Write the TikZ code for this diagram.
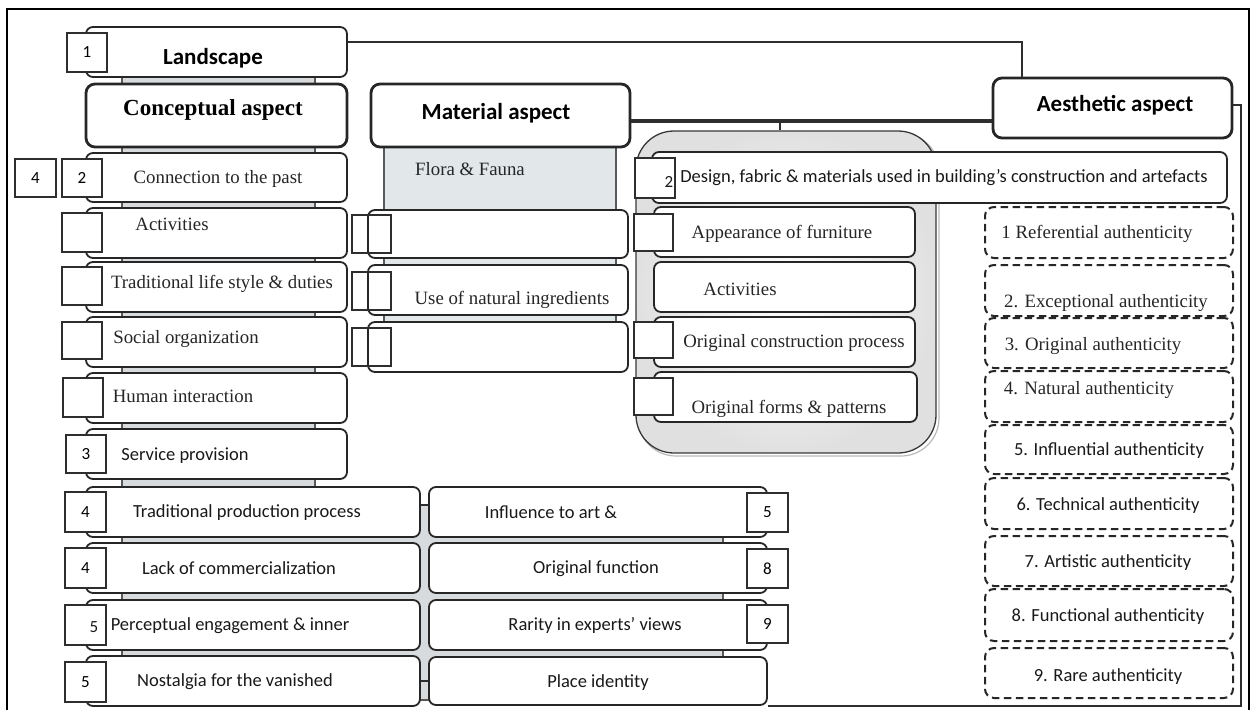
\documentclass[tikz,border=0pt]{standalone}
\usepackage{fontspec}
\setmainfont{Liberation Serif}
\setsansfont{Carlito}
\usetikzlibrary{calc}
\definecolor{mgray}{RGB}{226,231,234}
\definecolor{sgray}{RGB}{216,219,221}
\newcommand{\mkbox}[7]{\node[#6, minimum width={#4-#2}, minimum height={#5-#3}] (#1) at ({(#2+#4)/2},{(#3+#5)/2}) {#7};}
\newcommand{\tx}[5]{\node[#4] (#1) at (#2,#3) {#5};}
\begin{document}
\begin{tikzpicture}[x=1pt,y=-1pt,
  rbox/.style={draw=black!85, line width=1.8pt, rounded corners=7pt, fill=white, inner sep=0pt},
  hbox/.style={rbox, line width=2.8pt, rounded corners=9pt},
  nsq/.style={draw=black!82, line width=1.7pt, fill=white, inner sep=0pt, font=\sffamily\fontsize{17}{19}\selectfont},
  osq/.style={draw=black!82, line width=1.5pt, inner sep=0pt},
  dbox/.style={draw=black!85, line width=2pt, dash pattern=on 7.5pt off 4.5pt, rounded corners=9pt, inner sep=0pt},
  ser/.style={font=\fontsize{18.8}{20}\selectfont, text=black!85, inner sep=0pt, yshift=-1.5pt},
  sans/.style={font=\sffamily\fontsize{18.5}{20}\selectfont, text=black!90, inner sep=0pt, yshift=-1.5pt},
  hser/.style={font=\bfseries\fontsize{23}{25}\selectfont, inner sep=0pt, yshift=-1.5pt},
  hsans/.style={font=\sffamily\bfseries\fontsize{23}{25}\selectfont, inner sep=0pt, yshift=-1.5pt},
  conn/.style={draw=black!82, line width=1.5pt},
  strip/.style={fill=sgray, draw=black!65, line width=1.2pt},
  contbox/.style={draw=black!78, line width=1.3pt, rounded corners=38pt, shading=radial, inner color=white, outer color=gray!24, inner sep=0pt}
]
\useasboundingbox (0,0) rectangle (1252,709);
% frame
\draw[line width=1.5pt] (7,712) -- (7,9) -- (1249,9) -- (1249,712);

% background strips
\path[strip] (122,70) rectangle (315,505);
\path[strip] (122,505) rectangle (723,700);
\path[fill=mgray, draw=black!65, line width=1.2pt] (384,140) rectangle (616,322);

% right container
\mkbox{contsh}{638}{133}{939}{456}{draw=gray!55, line width=1.2pt, rounded corners=38pt, inner sep=0pt}{}
\mkbox{cont}{636}{131}{936}{453}{contbox}{}

% left column
\mkbox{land}{86}{27}{347}{77}{rbox}{}
\mkbox{conc}{86}{84}{347}{147}{hbox}{}
\mkbox{conn}{86}{153}{347}{202}{rbox}{}
\mkbox{act}{86}{208}{347}{258}{rbox}{}
\mkbox{trad}{86}{262}{347}{312}{rbox}{}
\mkbox{soc}{86}{317}{347}{367}{rbox}{}
\mkbox{hum}{86}{373}{347}{423}{rbox}{}
\mkbox{serv}{86}{429}{347}{479}{rbox}{}
\mkbox{tpp}{86}{487}{420}{537}{rbox}{}
\mkbox{lack}{86}{543}{420}{593}{rbox}{}
\mkbox{perc}{86}{600}{420}{650}{rbox}{}
\mkbox{nost}{86}{656}{420}{706}{rbox}{}
\mkbox{infl}{429}{487}{767}{537}{rbox}{}
\mkbox{func}{429}{543}{767}{593}{rbox}{}
\mkbox{rar}{429}{600}{767}{650}{rbox}{}
\mkbox{place}{429}{657}{767}{705}{rbox}{}

% material column
\mkbox{mat}{371}{84}{630}{147}{hbox}{}
\mkbox{m1}{368}{210}{628}{258}{rbox}{}
\mkbox{m2}{368}{265}{628}{315}{rbox}{}
\mkbox{m3}{368}{322}{628}{372}{rbox}{}
\mkbox{ms1}{352}{215}{391}{253}{osq}{}
\mkbox{ms2}{352}{272}{391}{310}{osq}{}
\mkbox{ms3}{352}{328}{391}{366}{osq}{}

% right column
\mkbox{des}{652}{152}{1227}{203}{rbox}{}
\mkbox{app}{654}{207}{915}{257}{rbox}{}
\mkbox{ract}{654}{262}{915}{312}{rbox}{}
\mkbox{ocp}{654}{317}{915}{367}{rbox}{}
\mkbox{ofp}{654}{372}{917}{422}{rbox}{}
\mkbox{aes}{993}{78}{1232}{138}{hbox}{}

% dashed boxes
\mkbox{d1}{985}{207}{1233}{258}{dbox}{}
\mkbox{d2}{985}{265}{1233}{316}{dbox}{}
\mkbox{d3}{985}{318}{1233}{368}{dbox}{}
\mkbox{d4}{985}{371}{1233}{422}{dbox}{}
\mkbox{d5}{985}{425}{1233}{474}{dbox}{}
\mkbox{d6}{985}{478}{1233}{529}{dbox}{}
\mkbox{d7}{985}{536}{1233}{586}{dbox}{}
\mkbox{d8}{985}{589}{1233}{641}{dbox}{}
\mkbox{d9}{985}{648}{1233}{698}{dbox}{}

% number squares
\mkbox{s1}{67}{33}{107}{72}{nsq}{1}
\mkbox{s2}{62}{159}{102}{197}{nsq}{2}
\mkbox{s4}{15}{159}{56}{197}{nsq}{4}
\mkbox{sa}{62}{213}{102}{252}{nsq}{}
\mkbox{st}{62}{267}{102}{305}{nsq}{}
\mkbox{ss}{62}{322}{102}{359}{nsq}{}
\mkbox{sh}{63}{378}{103}{417}{nsq}{}
\mkbox{s3}{66}{435}{106}{473}{nsq}{3}
\mkbox{b1}{65}{492}{106}{532}{nsq}{4}
\mkbox{b2}{65}{548}{106}{588}{nsq}{4}
\mkbox{b3}{65}{605}{106}{645}{nsq}{}
\mkbox{b4}{65}{662}{106}{702}{nsq}{5}
\mkbox{r1}{747}{493}{788}{532}{nsq}{5}
\mkbox{r2}{747}{549}{788}{588}{nsq}{8}
\mkbox{r3}{747}{605}{788}{643}{nsq}{9}
\mkbox{qd}{635}{158}{675}{198}{nsq}{}
\mkbox{qa}{634}{214}{673}{251}{nsq}{}
\mkbox{qc}{634}{322}{673}{358}{nsq}{}
\mkbox{qf}{634}{378}{673}{415}{nsq}{}
\tx{nb3}{94}{626}{sans, font=\sffamily\fontsize{17}{19}\selectfont}{5}
\tx{nqd}{669}{180}{sans, font=\sffamily\fontsize{17}{19}\selectfont}{2}

% texts
\tx{tland}{213}{57}{hsans}{Landscape}
\tx{tconc}{213}{108}{hser}{Conceptual aspect}
\tx{tconn}{218}{177}{ser}{Connection to the past}
\tx{tact}{172}{223}{ser}{Activities}
\tx{ttrad}{222}{282}{ser}{Traditional life style \& duties}
\tx{tsoc}{186}{338}{ser}{Social organization}
\tx{thum}{183}{395}{ser}{Human interaction}
\tx{tserv}{185}{454}{sans}{Service provision}
\tx{ttpp}{247}{511}{sans}{Traditional production process}
\tx{tlack}{239}{567}{sans}{Lack of commercialization}
\tx{tperc}{230}{624}{sans}{Perceptual engagement \& inner}
\tx{tnost}{235}{680}{sans}{Nostalgia for the vanished}
\tx{tinfl}{551}{511}{sans}{Influence to art \&}
\tx{tfunc}{596}{567}{sans}{Original function}
\tx{trar}{595}{624}{sans}{Rarity in experts’ views}
\tx{tplace}{598}{681}{sans}{Place identity}
\tx{tmat}{496}{112}{hsans}{Material aspect}
\tx{tflora}{470}{168}{ser}{Flora \& Fauna}
\tx{tuse}{512}{298}{ser}{Use of natural ingredients}
\tx{tdes}{944}{176}{sans}{Design, fabric \& materials used in building’s construction and artefacts}
\tx{tapp}{782}{232}{ser}{Appearance of furniture}
\tx{tract}{740}{288}{ser}{Activities}
\tx{tocp}{794}{342}{ser}{Original construction process}
\tx{tofp}{789}{407}{ser}{Original forms \& patterns}
\tx{taes}{1115}{104}{hsans}{Aesthetic aspect}
\tx{td1}{1097}{232}{ser}{1 Referential authenticity}
\tx{td2}{1106}{302}{ser}{2. Exceptional authenticity}
\tx{td3}{1093}{345}{ser}{3. Original authenticity}
\tx{td4}{1089}{389}{ser}{4. Natural authenticity}
\tx{td5}{1109}{449}{sans}{5. Influential authenticity}
\tx{td6}{1108}{504}{sans}{6. Technical authenticity}
\tx{td7}{1108}{561}{sans}{7. Artistic authenticity}
\tx{td8}{1108}{615}{sans}{8. Functional authenticity}
\tx{td9}{1108}{675}{sans}{9. Rare authenticity}

% connectors
\coordinate (lc) at (1022,42);
\draw[conn] (land.east |- lc) -- (lc) -- (lc |- aes.north);
\coordinate (mc) at (700,121);
\draw[conn, line width=3.2pt] (mat.east |- mc) -- (aes.west |- mc);
\coordinate (tk) at (780,121);
\draw[conn] (tk) -- (tk |- cont.north);
\coordinate (ac) at (1241,105);
\draw[conn] (aes.east |- ac) -- (ac) |- (place.south east);
\draw[conn] ($(tpp.east)+(0,-7)$) -- ($(infl.west)+(0,-7)$);
\draw[conn] (nost.east) -- (place.west);
\end{tikzpicture}
\end{document}
